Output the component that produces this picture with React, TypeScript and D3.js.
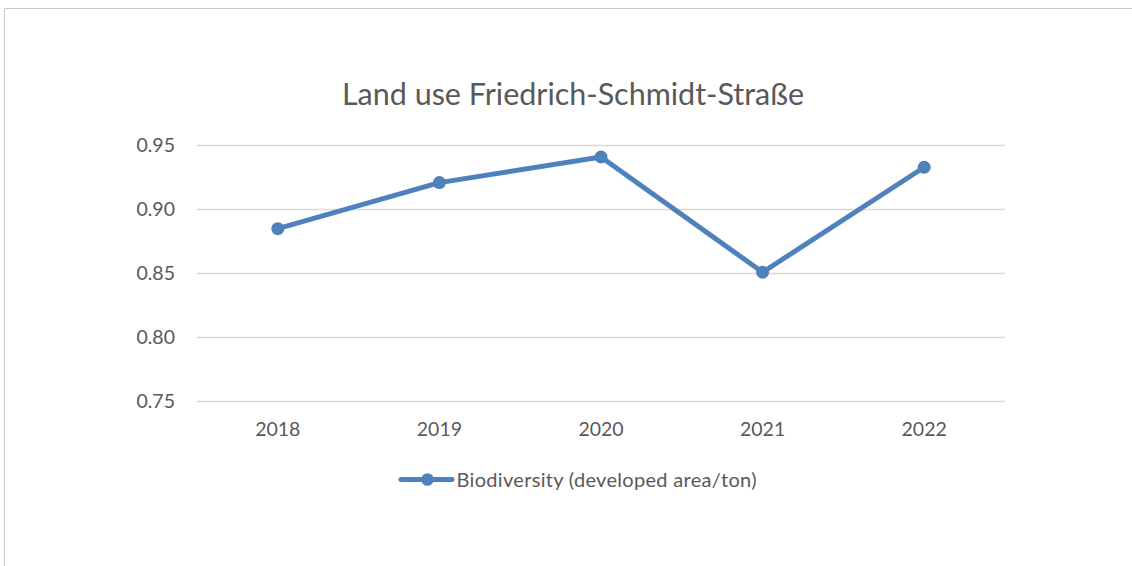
import React from "react";
import * as d3 from "d3";

const TITLE = "Land use Friedrich-Schmidt-Straße";
const SERIES_NAME = "Biodiversity (developed area/ton)";
const years = ["2018", "2019", "2020", "2021", "2022"];
const values = [0.885, 0.921, 0.941, 0.851, 0.933];
const yTicks = [0.75, 0.8, 0.85, 0.9, 0.95];

const W = 1132;
const H = 566;
const FONT = "Lato, 'Open Sans', sans-serif";
const TEXT = "#595959";
const BLUE = "#4f81bd";

export default function App() {
  const x = d3.scaleBand<string>().domain(years).range([197, 1005]);
  const y = d3.scaleLinear().domain([0.75, 0.95]).range([401.5, 145.5]);
  const line = d3
    .line<number>()
    .x((_, i) => (x(years[i]) as number) + x.bandwidth() / 2)
    .y((d) => y(d));

  return (
    <div style={{ position: "absolute", left: 0, top: 0 }}>
      <svg width={W} height={H} style={{ display: "block" }}>
        <rect x={0} y={0} width={W} height={H} fill="#fff" />
        <line x1={4.5} y1={8.5} x2={W} y2={8.5} stroke="#c8c8c8" strokeWidth={1} />
        <line x1={4.5} y1={8.5} x2={4.5} y2={H} stroke="#c8c8c8" strokeWidth={1} />
        <text
          x={(x.range()[0] + x.range()[1]) / 2 - 28}
          y={104.5}
          textAnchor="middle"
          fontFamily={FONT}
          fontSize={30.5}
          fill={TEXT}
        >
          {TITLE}
        </text>
        {yTicks.map((t) => (
          <g key={t}>
            <line x1={197} x2={1005} y1={y(t)} y2={y(t)} stroke="#d9d9d9" strokeWidth={1.5} />
            <text
              x={175}
              y={y(t)}
              dy="0.35em"
              textAnchor="end"
              fontFamily={FONT}
              fontSize={19.5}
              fill={TEXT}
            >
              {d3.format(".2f")(t)}
            </text>
          </g>
        ))}
        {years.map((yr) => (
          <text
            key={yr}
            x={(x(yr) as number) + x.bandwidth() / 2}
            y={429.5}
            dy="0.35em"
            textAnchor="middle"
            fontFamily={FONT}
            fontSize={19.5}
            fill={TEXT}
          >
            {yr}
          </text>
        ))}
        <path d={line(values) || ""} fill="none" stroke={BLUE} strokeWidth={5} strokeLinejoin="round" />
        {values.map((v, i) => (
          <circle
            key={i}
            cx={(x(years[i]) as number) + x.bandwidth() / 2}
            cy={y(v)}
            r={6.5}
            fill={BLUE}
          />
        ))}
        <g>
          <line x1={401} x2={452} y1={479.5} y2={479.5} stroke={BLUE} strokeWidth={5} strokeLinecap="round" />
          <circle cx={427.5} cy={479.5} r={6.3} fill={BLUE} />
          <text
            x={456.5}
            y={479.5}
            dy="0.35em"
            fontFamily={FONT}
            fontSize={20}
            fill={TEXT}
            textLength={300}
            lengthAdjust="spacing"
          >
            {SERIES_NAME}
          </text>
        </g>
      </svg>
    </div>
  );
}
